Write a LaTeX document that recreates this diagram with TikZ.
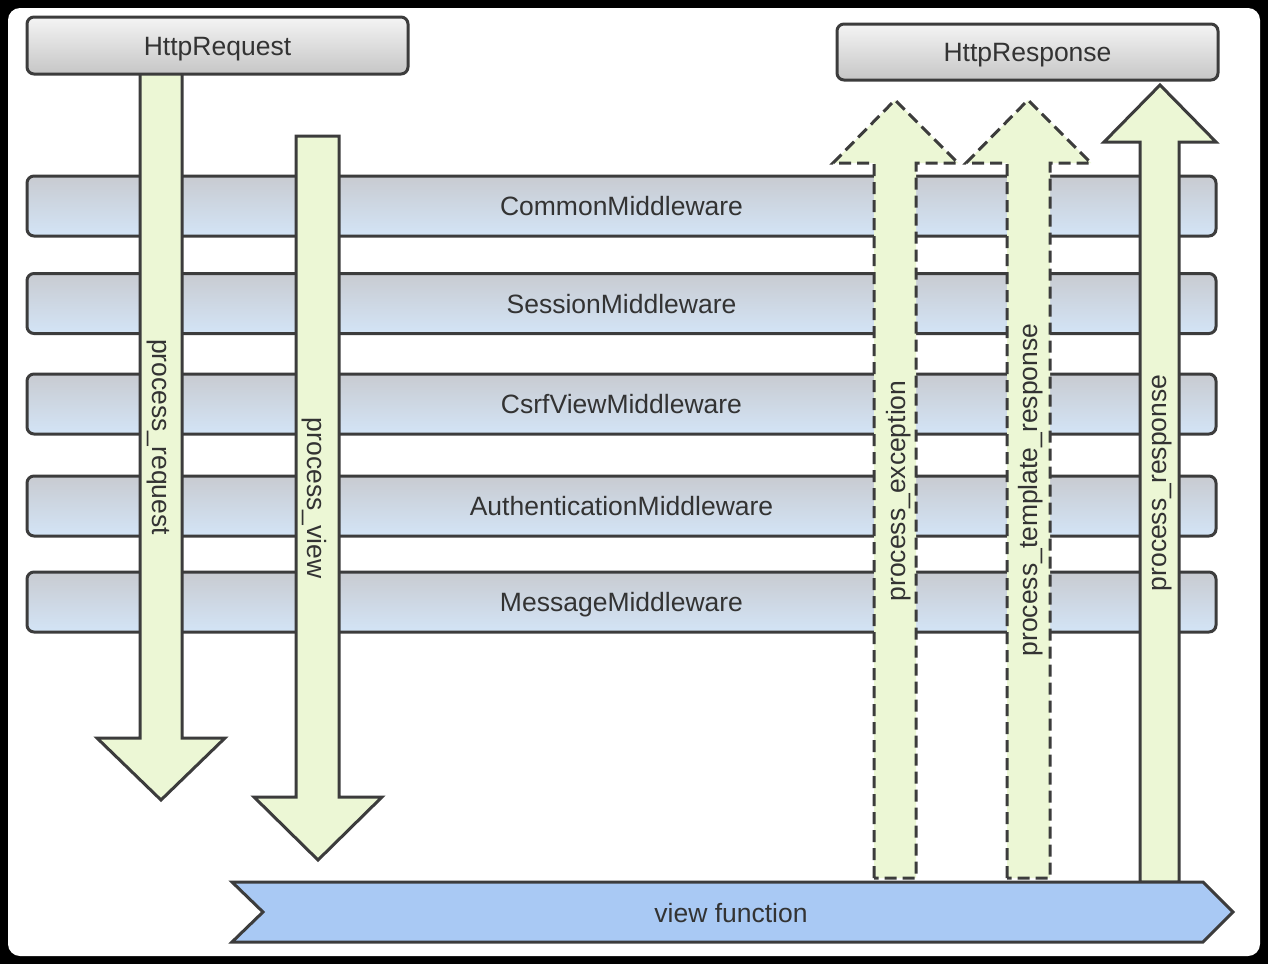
\documentclass[tikz,border=0pt]{standalone}
\usepackage{fontspec}
\setmainfont{Liberation Sans}
\definecolor{lineC}{HTML}{3C3C3C}
\definecolor{textC}{HTML}{333333}
\definecolor{greenF}{HTML}{ECF7D5}
\definecolor{bannerF}{HTML}{A9C9F4}
\definecolor{barTop}{HTML}{C8CBD1}
\definecolor{barBot}{HTML}{D3E4F6}
\definecolor{boxTop}{HTML}{F4F4F4}
\definecolor{boxBot}{HTML}{C6C6C6}
\begin{document}
\begin{tikzpicture}[x=1pt,y=-1pt,
  every node/.style={font=\fontsize{26.5}{30}\selectfont, text=textC},
  captext/.style={text height=19pt, text depth=0pt},
  httpbox/.style={captext, draw=lineC, line width=3pt, rounded corners=7pt, top color=boxTop, bottom color=boxBot, minimum width=381pt, minimum height=56pt, inner sep=0pt},
  mwbar/.style={captext, draw=lineC, line width=3pt, rounded corners=7pt, top color=barTop, bottom color=barBot, minimum width=1189pt, minimum height=60pt, inner sep=0pt},
  flowarrow/.style={draw=lineC, line width=3pt, fill=greenF, line join=miter},
  dasharrow/.style={flowarrow, dash pattern=on 12pt off 6pt},
  banner/.style={draw=lineC, line width=3pt, fill=bannerF, line join=miter},
  lbl/.style={inner sep=0pt}
]
% frame
\fill[black] (0,0) rectangle (1268,964);
\fill[white, rounded corners=12pt] (8,8) rectangle (1260,956);
\useasboundingbox (0,0) rectangle (1268,964);

% middleware bars
\node[mwbar] (common) at (621.5,206) {CommonMiddleware};
\node[mwbar] (session) at (621.5,303.5) {SessionMiddleware};
\node[mwbar] (csrf) at (621.5,404) {CsrfViewMiddleware};
\node[mwbar] (auth) at (621.5,506) {AuthenticationMiddleware};
\node[mwbar] (message) at (621.5,602) {MessageMiddleware};

% downward arrows
\draw[flowarrow] (140,60) -- (140,738) -- (97,738) -- (161,800) -- (225,738) -- (182,738) -- (182,60) -- cycle;
\node[lbl, rotate=-90] (lreq) at (158,437) {process\_request};
\draw[flowarrow] (296,136) -- (296,797) -- (254,797) -- (318,860) -- (382,797) -- (339,797) -- (339,136) -- cycle;
\node[lbl, rotate=-90] (lview) at (314,498) {process\_view};

% request box
\node[httpbox, minimum height=57pt] (req) at (217.5,45.5) {HttpRequest};

% upward arrows
\draw[dasharrow] (874,878) -- (874,163) -- (833,163) -- (895,100) -- (958,163) -- (916,163) -- (916,878) -- cycle;
\node[lbl, rotate=90] (lexc) at (899,491) {process\_exception};
\draw[dasharrow] (1007,878) -- (1007,163) -- (966,163) -- (1028,100) -- (1091,163) -- (1050,163) -- (1050,878) -- cycle;
\node[lbl, rotate=90] (ltpl) at (1031,490) {process\_template\_response};
\draw[flowarrow] (1140,882) -- (1140,142) -- (1104,142) -- (1160,85) -- (1216,142) -- (1179,142) -- (1179,882) -- cycle;
\node[lbl, rotate=90] (lresp) at (1162,483) {process\_response};

% response box
\node[httpbox] (resp) at (1027.5,52) {HttpResponse};

% view function banner
\draw[banner] (232,882) -- (1203,882) -- (1233,912) -- (1203,942) -- (232,942) -- (263,912) -- cycle;
\node[lbl, captext] (view) at (731,913) {view function};
\end{tikzpicture}
\end{document}
